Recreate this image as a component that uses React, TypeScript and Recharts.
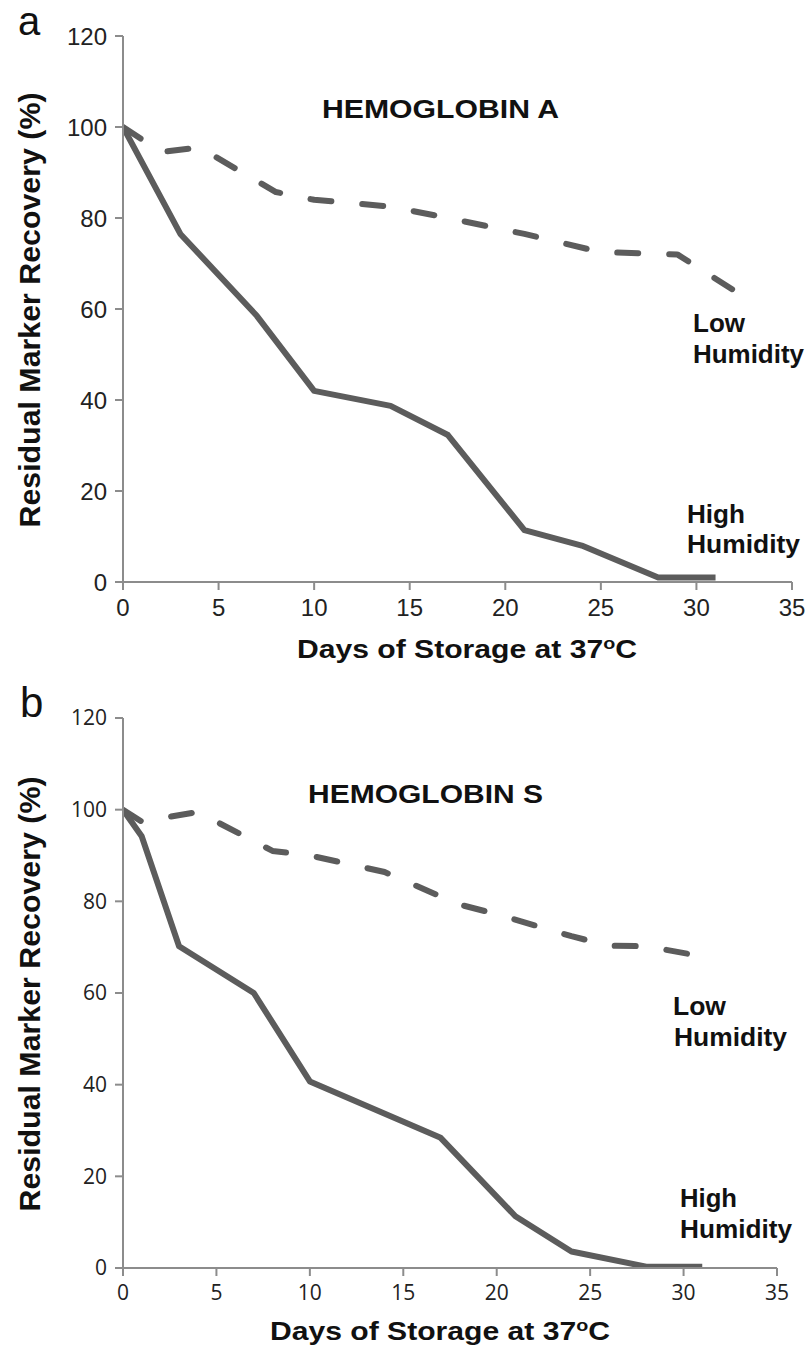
import React from "react";
import { LineChart, Line, XAxis, YAxis } from "recharts";

// Days of storage (x) and residual marker recovery in % (y)
const xTicks = [0, 5, 10, 15, 20, 25, 30, 35];
const yTicks = [0, 20, 40, 60, 80, 100, 120];

// Panel a: Hemoglobin A
const hbAHighDays = [0, 3, 7, 10, 14, 17, 21, 24, 28, 31];
const hbAHighValues = [100, 76.5, 58.5, 42, 38.7, 32.3, 11.4, 8, 1, 1];
const hbALowDays = [0, 2, 4, 8, 10, 14, 17, 21, 25, 29, 32];
const hbALowValues = [100, 94.5, 95.5, 85.7, 84, 82.5, 80, 76.5, 72.5, 72, 64];

// Panel b: Hemoglobin S
const hbSHighDays = [0, 1, 3, 7, 10, 17, 21, 24, 28, 31];
const hbSHighValues = [100, 94.2, 70.2, 60, 40.7, 28.4, 11.3, 3.6, 0.3, 0.3];
const hbSLowDays = [0, 1, 4, 8, 10, 14, 18, 20, 24, 26, 28, 31];
const hbSLowValues = [100, 97.4, 99.5, 91, 90, 86.4, 79.3, 77.2, 72.4, 70.3, 70.2, 68];

const toPoints = (days: number[], values: number[]) =>
  days.map((day, i) => ({ day, value: values[i] }));

const LINE_COLOR = "#5c5c5c";
const AXIS_COLOR = "#8c8c8c";
const SANS = "'Liberation Sans', Arial, Helvetica, sans-serif";

interface PanelProps {
  high: { day: number; value: number }[];
  low: { day: number; value: number }[];
  height: number;
  margin: { top: number; right: number; bottom: number; left: number };
  tickFont: { fontSize: number; fontFamily: string };
}

function Panel({ high, low, height, margin, tickFont }: PanelProps) {
  const tick = { ...tickFont, fill: "#222" };
  return (
    <LineChart width={811} height={height} margin={margin}>
      <XAxis
        type="number"
        dataKey="day"
        domain={[0, 35]}
        ticks={xTicks}
        height={40}
        tick={tick}
        tickSize={8}
        tickMargin={9}
        stroke={AXIS_COLOR}
        strokeWidth={2}
        allowDataOverflow
      />
      <YAxis
        type="number"
        dataKey="value"
        domain={[0, 120]}
        ticks={yTicks}
        width={123}
        tick={tick}
        tickSize={8}
        tickMargin={8}
        stroke={AXIS_COLOR}
        strokeWidth={2}
        allowDataOverflow
      />
      <Line
        data={low}
        dataKey="value"
        type="linear"
        stroke={LINE_COLOR}
        strokeWidth={6}
        strokeDasharray="21 31"
        strokeLinecap="round"
        strokeLinejoin="round"
        dot={false}
        activeDot={false}
        isAnimationActive={false}
      />
      <Line
        data={high}
        dataKey="value"
        type="linear"
        stroke={LINE_COLOR}
        strokeWidth={6}
        strokeLinejoin="round"
        dot={false}
        activeDot={false}
        isAnimationActive={false}
      />
    </LineChart>
  );
}

function T(props: {
  x: number;
  y: number;
  size: number;
  len?: number;
  bold?: boolean;
  anchor?: "start" | "middle" | "end";
  rotate?: boolean;
  children: React.ReactNode;
}) {
  const { x, y, size, len, bold = true, anchor = "start", rotate, children } = props;
  return (
    <text
      x={x}
      y={y}
      fontSize={size}
      fontFamily={SANS}
      fontWeight={bold ? 700 : 400}
      fill="#111"
      textAnchor={anchor}
      textLength={len}
      lengthAdjust={len ? "spacingAndGlyphs" : undefined}
      transform={rotate ? `rotate(-90 ${x} ${y})` : undefined}
    >
      {children}
    </text>
  );
}

function XLabel({ x, y }: { x: number; y: number }) {
  return (
    <T x={x} y={y} size={26} len={340}>
      Days of Storage at 37
      <tspan dy={-9} fontSize={17}>
        o
      </tspan>
      <tspan dy={9}>C</tspan>
    </T>
  );
}

export default function App() {
  const hbAHigh = toPoints(hbAHighDays, hbAHighValues);
  const hbALow = toPoints(hbALowDays, hbALowValues);
  const hbSHigh = toPoints(hbSHighDays, hbSHighValues);
  const hbSLow = toPoints(hbSLowDays, hbSLowValues);

  return (
    <div
      style={{
        position: "absolute",
        left: 0,
        top: 0,
        width: 811,
        height: 1351,
        background: "#fff",
        overflow: "hidden",
      }}
    >
      <div style={{ position: "absolute", left: 0, top: 0 }}>
        <Panel
          high={hbAHigh}
          low={hbALow}
          height={680}
          margin={{ top: 36, right: 19, bottom: 58, left: 0 }}
          tickFont={{ fontSize: 24, fontFamily: SANS }}
        />
      </div>
      <div style={{ position: "absolute", left: 0, top: 675 }}>
        <Panel
          high={hbSHigh}
          low={hbSLow}
          height={676}
          margin={{ top: 43, right: 34, bottom: 43, left: 0 }}
          tickFont={{ fontSize: 21, fontFamily: "'Open Sans', 'Noto Sans', sans-serif" }}
        />
      </div>

      <svg
        width={811}
        height={1351}
        style={{ position: "absolute", left: 0, top: 0, pointerEvents: "none" }}
      >
        {/* panel a */}
        <T x={18} y={35} size={40} bold={false}>a</T>
        <T x={322} y={118} size={25} len={237}>HEMOGLOBIN A</T>
        <T x={693} y={332} size={25} len={52}>Low</T>
        <T x={693} y={363} size={25} len={111}>Humidity</T>
        <T x={687} y={523} size={25} len={58}>High</T>
        <T x={687} y={553} size={25} len={113}>Humidity</T>
        <T x={40} y={310} size={29} len={435} anchor="middle" rotate>
          Residual Marker Recovery (%)
        </T>
        <XLabel x={297} y={658} />

        {/* panel b */}
        <T x={20} y={717} size={42} bold={false}>b</T>
        <T x={308} y={803} size={25} len={235}>HEMOGLOBIN S</T>
        <T x={673} y={1015} size={25} len={53}>Low</T>
        <T x={674} y={1046} size={25} len={113}>Humidity</T>
        <T x={680} y={1207} size={25} len={57}>High</T>
        <T x={680} y={1238} size={25} len={112}>Humidity</T>
        <T x={40} y={994} size={29} len={435} anchor="middle" rotate>
          Residual Marker Recovery (%)
        </T>
        <XLabel x={270} y={1340} />
      </svg>
    </div>
  );
}
